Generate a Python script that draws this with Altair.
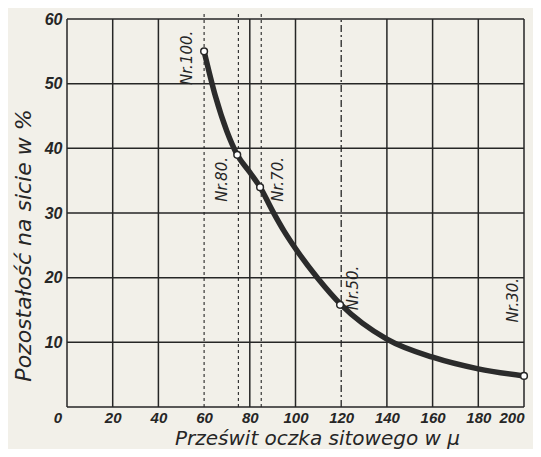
import altair as alt
import pandas as pd

# Curve
curve_x = [60, 65, 70, 74.5, 80, 84.5, 90, 95, 100, 110, 120, 140, 160, 180, 200]
curve_y = [55, 48, 42.6, 39, 36.3, 34, 30.3, 27.2, 24.5, 19.8, 15.8, 10.5, 7.7, 5.9, 4.8]

# Marked sieves
sieve_names = ["Nr.100.", "Nr.80.", "Nr.70.", "Nr.50.", "Nr.30."]
sieve_x = [60, 74.5, 84.5, 119.5, 200]
sieve_y = [55, 39, 34, 15.8, 4.8]
label_x = [52.5, 68, 92.3, 125, 195]
label_y = [54, 35.2, 35.2, 18.4, 16.5]

x_ticks = [20, 40, 60, 80, 100, 120, 140, 160, 180, 200]
y_ticks = [10, 20, 30, 40, 50, 60]
solid_v = [0, 20, 40, 80, 100, 140, 160, 180, 200]
h_lines = [0, 10, 20, 30, 40, 50, 60]
dashed_v = [60, 75, 85]
dashdot_v = [120]

INK = "#262626"
FONT = "Liberation Sans"
TFONT = "DejaVu Sans"

xs = alt.Scale(domain=[0, 200], nice=False, zero=False)
ys = alt.Scale(domain=[0, 60], nice=False, zero=False)

xaxis = alt.Axis(values=x_ticks, domain=False, ticks=False, grid=False,
                 labelFont=FONT, labelFontStyle="italic", labelFontWeight="bold",
                 labelFontSize=15, labelColor=INK, labelPadding=3,
                 title="Prześwit oczka sitowego w μ", titleFont=TFONT,
                 titleFontStyle="italic", titleFontWeight="normal", titleFontSize=20,
                 titleColor=INK, titleX=250, titleY=37, titleBaseline="alphabetic",
                 titleAlign="center")
yaxis = alt.Axis(values=y_ticks, domain=False, ticks=False, grid=False,
                 labelFont=FONT, labelFontStyle="italic", labelFontWeight="bold",
                 labelFontSize=16, labelColor=INK, labelPadding=5,
                 title="Pozostałość na sicie w %", titleFont=TFONT,
                 titleFontStyle="italic", titleFontWeight="normal", titleFontSize=22,
                 titleColor=INK, titleX=-37, titleY=226, titleAngle=-90,
                 titleBaseline="alphabetic", titleAlign="center")

base_x = alt.X("x:Q", scale=xs, axis=xaxis)
base_y = alt.Y("y:Q", scale=ys, axis=yaxis)

hdf = pd.DataFrame({"y": h_lines, "x": [0] * len(h_lines), "x2": [200] * len(h_lines)})
hrules = alt.Chart(hdf).mark_rule(color=INK, strokeWidth=1.5).encode(
    x=base_x, x2="x2:Q", y=base_y)

vdf = pd.DataFrame({"x": solid_v, "y": [0] * len(solid_v), "y2": [60] * len(solid_v)})
vrules = alt.Chart(vdf).mark_rule(color=INK, strokeWidth=1.5).encode(
    x=alt.X("x:Q", scale=xs), y=alt.Y("y:Q", scale=ys), y2="y2:Q")

ddf = pd.DataFrame({"x": dashed_v, "y": [0] * len(dashed_v), "y2": [61] * len(dashed_v)})
drules = alt.Chart(ddf).mark_rule(color=INK, strokeWidth=1.1, strokeDash=[3, 3]).encode(
    x=alt.X("x:Q", scale=xs), y=alt.Y("y:Q", scale=ys), y2="y2:Q")

dddf = pd.DataFrame({"x": dashdot_v, "y": [0], "y2": [60]})
ddrules = alt.Chart(dddf).mark_rule(color=INK, strokeWidth=1.3, strokeDash=[7, 3, 2, 3]).encode(
    x=alt.X("x:Q", scale=xs), y=alt.Y("y:Q", scale=ys), y2="y2:Q")

cdf = pd.DataFrame({"x": curve_x, "y": curve_y})
line = alt.Chart(cdf).mark_line(color="#2b2b2b", strokeWidth=5.5, interpolate="monotone",
                                strokeCap="round").encode(
    x=alt.X("x:Q", scale=xs), y=alt.Y("y:Q", scale=ys))

pdf = pd.DataFrame({"x": sieve_x, "y": sieve_y})
pts = alt.Chart(pdf).mark_point(shape="circle", filled=True, fill="white", stroke=INK,
                                strokeWidth=1.5, size=45, opacity=1).encode(
    x=alt.X("x:Q", scale=xs), y=alt.Y("y:Q", scale=ys))

ldf = pd.DataFrame({"x": label_x, "y": label_y, "t": sieve_names})
labels = alt.Chart(ldf).mark_text(angle=270, font=TFONT, fontStyle="italic", fontSize=15,
                                  color=INK, align="center", baseline="middle").encode(
    x=alt.X("x:Q", scale=xs), y=alt.Y("y:Q", scale=ys), text="t:N")

zdf = pd.DataFrame({"x": [0], "y": [0], "t": ["0"]})
zero = alt.Chart(zdf).mark_text(font=FONT, fontStyle="italic", fontWeight="bold", fontSize=15,
                                color=INK, dx=-9, dy=11).encode(
    x=alt.X("x:Q", scale=xs), y=alt.Y("y:Q", scale=ys), text="t:N")

chart = alt.layer(hrules, vrules, drules, ddrules, line, pts, labels, zero).properties(
    width=457, height=388,
    autosize=alt.AutoSizeParams(type="none"),
    padding={"left": 59, "top": 11, "right": 9, "bottom": 42},
    background="#f2f0e9",
).configure_view(stroke=None)

chart.save("out.html", embed_options={"renderer": "svg", "actions": False})
